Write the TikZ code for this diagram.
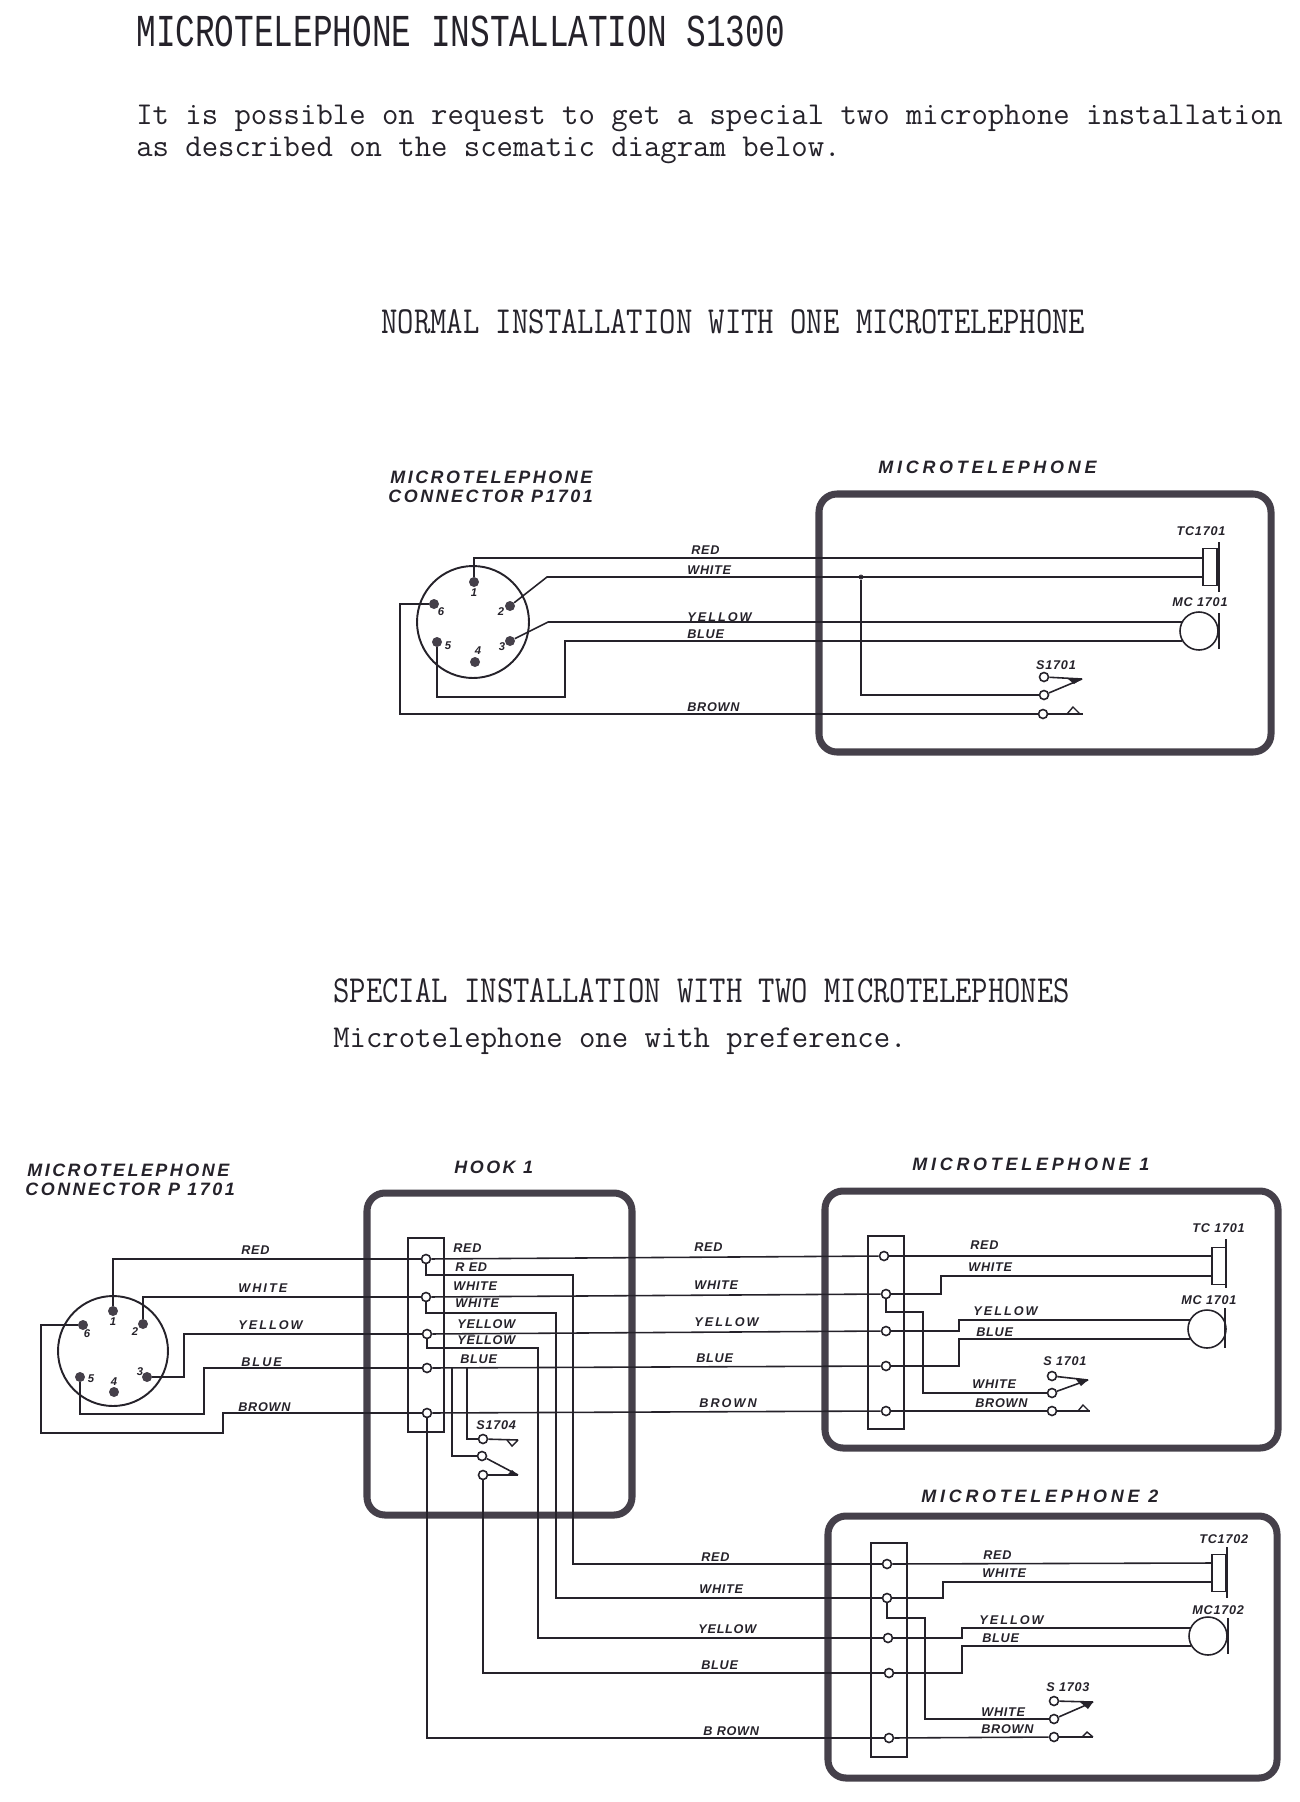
\documentclass[tikz,border=0pt]{standalone}
\usepackage{fontspec}
\newfontfamily\titlefamily[FakeStretch=0.717]{Liberation Mono}
\newfontfamily\headfamily[FakeStretch=0.83]{Latin Modern Mono}
\newfontfamily\bodyfamily{Latin Modern Mono}
\newfontfamily\tagfamily[LetterSpace=6]{Liberation Sans}
\newfontfamily\widetagfamily[LetterSpace=16]{Liberation Sans}
\newfontfamily\bigfamily[LetterSpace=14]{Liberation Sans}
\newfontfamily\widebigfamily[LetterSpace=21]{Liberation Sans}
\definecolor{ink}{HTML}{25222A}
\definecolor{casing}{HTML}{45404A}
\tikzset{
  wire/.style={draw=ink, line width=0.9pt},
  case/.style={draw=casing, line width=4pt, rounded corners=0.36cm},
  strip/.style={draw=ink, line width=0.8pt},
  rim/.style={shape=circle, draw=ink, line width=1.1pt, inner sep=0pt},
  pinhead/.style={shape=circle, fill=casing, inner sep=0pt, minimum size=0.2cm},
  dot/.style={shape=circle, fill=casing, inner sep=0pt, minimum size=0.1cm},
  lug/.style={shape=circle, draw=ink, fill=white, line width=0.9pt, inner sep=0pt, minimum size=0.18cm},
  mic/.style={shape=circle, draw=ink, line width=0.9pt, inner sep=0pt, minimum size=0.76cm},
  earpiece/.style={draw=ink, line width=0.9pt, inner sep=0pt, minimum width=0.28cm, minimum height=0.74cm},
  plate/.style={fill=ink, inner sep=0pt, minimum width=0.04cm},
  pinno/.style={text=ink, inner sep=0pt, font=\tagfamily\bfseries\itshape\fontsize{6.4}{7}\selectfont},
  tag/.style={text=ink, anchor=base west, inner sep=0pt, font=\tagfamily\bfseries\itshape\fontsize{7.2}{8}\selectfont},
  widetag/.style={text=ink, anchor=base west, inner sep=0pt, font=\widetagfamily\bfseries\itshape\fontsize{7.2}{8}\selectfont},
  bigtag/.style={text=ink, anchor=base west, inner sep=0pt, font=\bigfamily\bfseries\itshape\fontsize{10.2}{11}\selectfont},
  widebigtag/.style={text=ink, anchor=base west, inner sep=0pt, font=\widebigfamily\bfseries\itshape\fontsize{10.2}{11}\selectfont},
  bodyline/.style={text=ink, anchor=base west, inner sep=0pt, font=\bodyfamily\fontsize{18.1}{20}\selectfont},
  headline/.style={text=ink, anchor=base west, inner sep=0pt, font=\headfamily\fontsize{21.8}{24}\selectfont}
}
\begin{document}
\begin{tikzpicture}[x=0.02cm, y=-0.02cm]
\useasboundingbox (0,0) rectangle (1299,1802);
% texts
\node[text=ink, anchor=base west, inner sep=0pt, font=\titlefamily\fontsize{26}{30}\selectfont] (title) at (136,46) {MICROTELEPHONE INSTALLATION S1300};
\node[bodyline] (intro1) at (136,124) {It is possible on request to get a special two microphone installation};
\node[bodyline] (intro2) at (136,156) {as described on the scematic diagram below.};
\node[headline] (normal) at (381,333) {NORMAL INSTALLATION WITH ONE MICROTELEPHONE};
\node[headline] (special) at (333,1002) {SPECIAL INSTALLATION WITH TWO MICROTELEPHONES};
\node[bodyline] (prefer) at (333,1047) {Microtelephone one with preference.};
% normal installation
\draw[case] (819,494) rectangle (1271,752);
\node[bigtag] (conntop) at (390,483) {MICROTELEPHONE};
\node[bigtag] (conntop2) at (388,502) {CONNECTOR P1701};
\node[widebigtag] (phonetop) at (878,473) {MICROTELEPHONE};
\node[rim, minimum size=2.24cm] (rimA) at (473,622) {};
\node[pinhead] (p1) at (474,582) {};
\node[pinhead] (p2) at (510,606) {};
\node[pinhead] (p3) at (510,641) {};
\node[pinhead] (p4) at (475,662) {};
\node[pinhead] (p5) at (437,642) {};
\node[pinhead] (p6) at (434,604) {};
\node[pinno] (pn1) at (474,593) {1};
\node[pinno] (pn2) at (501,612) {2};
\node[pinno] (pn3) at (502,647) {3};
\node[pinno] (pn4) at (478,651) {4};
\node[pinno] (pn5) at (448,646) {5};
\node[pinno] (pn6) at (441,612) {6};
\node[earpiece] (tcA) at (1210,567) {};
\node[plate, minimum height=1cm] (tcAp) at (1219,567) {};
\node[mic] (mcA) at (1199,631) {};
\node[plate, minimum height=0.72cm] (mcAp) at (1219,631) {};
\node[lug] (s1) at (1044,677) {};
\node[lug] (s2) at (1044,695) {};
\node[lug] (s3) at (1043,714) {};
\coordinate (a1) at (1203,558);
\coordinate (a2) at (1203,577);
\coordinate (a3) at (547,577);
\coordinate (a4) at (548,622);
\coordinate (a5) at (1182,622);
\coordinate (a6) at (565,697);
\coordinate (a7) at (1182,641);
\coordinate (a8) at (400,714);
\coordinate (a9) at (1082,679);
\coordinate (a10) at (1083,714);
\node[dot] (jn) at (861,577) {};
\path [wire] (p1) |- (a1);
\path [wire] (p2) -- (a3) -- (a2);
\path [wire] (p3) -- (a4) -- (a5);
\path [wire] (p5) |- (a6) |- (a7);
\path [wire] (p6) -| (a8) -- (s3);
\path [wire] (jn) |- (s2);
\path [wire] (s1) -- (a9);
\path [wire] (s2) -- (a9);
\path [wire] (s3) -- (a10);
\fill[ink] (1068,679) -- (1082,679) -- (1074,684) -- cycle;
\draw[wire, line width=0.8pt] (1067,714) -- (1073,707) -- (1080,714);
\node[tag] (t1) at (691,554) {RED};
\node[tag] (t2) at (687,574) {WHITE};
\node[widetag] (t3) at (687,621) {YELLOW};
\node[tag] (t4) at (687,638) {BLUE};
\node[tag] (t5) at (687,711) {BROWN};
\node[tag, anchor=base] (t6) at (1201,535) {TC1701};
\node[tag, anchor=base] (t7) at (1200,606) {MC 1701};
\node[tag, anchor=base] (t8) at (1056,669) {S1701};
% special installation, connector
\draw[case] (367,1193) rectangle (632,1515);
\draw[case] (825,1191) rectangle (1278,1448);
\draw[case] (828,1516) rectangle (1277,1778);
\node[bigtag] (connlow) at (27,1176) {MICROTELEPHONE};
\node[bigtag] (connlow2) at (25,1195) {CONNECTOR P 1701};
\node[bigtag] (hook) at (454,1173) {HOOK 1};
\node[widebigtag] (phone1) at (912,1170) {MICROTELEPHONE 1};
\node[widebigtag] (phone2) at (921,1502) {MICROTELEPHONE 2};
\node[rim, minimum size=2.2cm] (rimB) at (113,1351) {};
\node[pinhead] (q1) at (113,1311) {};
\node[pinhead] (q2) at (143,1324) {};
\node[pinhead] (q3) at (147,1377) {};
\node[pinhead] (q4) at (114,1392) {};
\node[pinhead] (q5) at (80,1377) {};
\node[pinhead] (q6) at (83,1325) {};
\node[pinno] (qn1) at (113,1322) {1};
\node[pinno] (qn2) at (135,1332) {2};
\node[pinno] (qn3) at (140,1372) {3};
\node[pinno] (qn4) at (114,1382) {4};
\node[pinno] (qn5) at (91,1379) {5};
\node[pinno] (qn6) at (87,1334) {6};
% strips
\draw[strip] (408,1238) rectangle (444,1432);
\draw[strip] (868,1236) rectangle (904,1429);
\draw[strip] (871,1543) rectangle (907,1757);
\node[lug] (r1) at (426,1259) {};
\node[lug] (r2) at (426,1297) {};
\node[lug] (r3) at (427,1334) {};
\node[lug] (r4) at (427,1368) {};
\node[lug] (r5) at (427,1413) {};
\node[lug] (m1) at (884,1256) {};
\node[lug] (m2) at (886,1294) {};
\node[lug] (m3) at (886,1331) {};
\node[lug] (m4) at (886,1366) {};
\node[lug] (m5) at (886,1411) {};
\node[lug] (n1) at (887,1564) {};
\node[lug] (n2) at (887,1598) {};
\node[lug] (n3) at (888,1638) {};
\node[lug] (n4) at (889,1673) {};
\node[lug] (n5) at (889,1738) {};
% connector to hook
\coordinate (b1) at (184,1334);
\coordinate (b2) at (204,1414);
\coordinate (b3) at (41,1433);
\coordinate (b4) at (223,1433);
\path [wire] (q1) |- (r1);
\path [wire] (q2) |- (r2);
\path [wire] (q3) -| (b1) -- (r3);
\path [wire] (q5) |- (b2) |- (r4);
\path [wire] (q6) -| (b3) -- (b4) |- (r5);
% hook to microtelephone 1
\path [wire] (r1) edge (m1);
\path [wire] (r2) edge (m2);
\path [wire] (r3) edge (m3);
\path [wire] (r4) edge (m4);
\path [wire] (r5) edge (m5);
% hook to microtelephone 2
\coordinate (g1) at (573,1275);
\coordinate (g2) at (556,1313);
\coordinate (g3) at (538,1348);
\path [wire] (r1) |- (g1) |- (n1);
\path [wire] (r2) |- (g2) |- (n2);
\path [wire] (r3) |- (g3) |- (n3);
\path [wire] (r5) |- (n5);
% switch S1704
\node[lug] (u1) at (483,1439) {};
\node[lug] (u2) at (482,1456) {};
\node[lug] (u3) at (483,1475) {};
\coordinate (j1) at (452,1368);
\coordinate (j2) at (467,1368);
\coordinate (u4) at (518,1440);
\coordinate (u5) at (518,1475);
\path [wire] (j1) |- (u2);
\path [wire] (j2) |- (u1);
\path [wire] (u1) -- (u4);
\path [wire] (u2) -- (u5);
\path [wire] (u3) -- (u5);
\path [wire] (u3) |- (n4);
\draw[wire, line width=0.8pt] (507,1440) -- (512,1446) -- (518,1440);
\fill[ink] (507,1475) -- (512,1470) -- (518,1475) -- cycle;
\node[tag] (h1) at (453,1252) {RED};
\node[tag] (h2) at (455,1271) {R ED};
\node[tag] (h3) at (453,1290) {WHITE};
\node[tag] (h4) at (455,1307) {WHITE};
\node[tag] (h5) at (457,1328) {YELLOW};
\node[tag] (h6) at (457,1344) {YELLOW};
\node[tag] (h7) at (460,1363) {BLUE};
\node[tag] (h8) at (476,1429) {S1704};
\node[tag] (l1) at (241,1254) {RED};
\node[widetag] (l2) at (238,1292) {WHITE};
\node[widetag] (l3) at (238,1329) {YELLOW};
\node[widetag] (l4) at (241,1366) {BLUE};
\node[tag] (l5) at (238,1411) {BROWN};
\node[tag] (c1) at (694,1251) {RED};
\node[tag] (c2) at (694,1289) {WHITE};
\node[widetag] (c3) at (694,1326) {YELLOW};
\node[tag] (c4) at (696,1362) {BLUE};
\node[widetag] (c5) at (699,1407) {BROWN};
\node[tag] (d1) at (701,1561) {RED};
\node[tag] (d2) at (699,1593) {WHITE};
\node[tag] (d3) at (698,1633) {YELLOW};
\node[tag] (d4) at (701,1669) {BLUE};
\node[tag] (d5) at (703,1735) {B ROWN};
% microtelephone 1
\node[earpiece] (tcB) at (1219,1266) {};
\node[plate, minimum height=0.98cm] (tcBp) at (1226,1263) {};
\node[mic] (mcB) at (1207,1329) {};
\node[plate, minimum height=0.8cm] (mcBp) at (1225,1328) {};
\node[lug] (w1) at (1052,1376) {};
\node[lug] (w2) at (1052,1393) {};
\node[lug] (w3) at (1052,1411) {};
\coordinate (e1) at (1212,1256);
\coordinate (e2) at (941,1276);
\coordinate (e3) at (1212,1276);
\coordinate (e4) at (923,1312);
\coordinate (e5) at (959,1320);
\coordinate (e6) at (1190,1320);
\coordinate (e7) at (959,1339);
\coordinate (e8) at (1190,1339);
\coordinate (e9) at (1088,1380);
\coordinate (e10) at (1090,1411);
\path [wire] (m1) -- (e1);
\path [wire] (m2) -| (e2) -- (e3);
\path [wire] (m2) |- (e4) |- (w2);
\path [wire] (m3) -| (e5) -- (e6);
\path [wire] (m4) -| (e7) -- (e8);
\path [wire] (m5) -- (w3);
\path [wire] (w1) -- (e9);
\path [wire] (w2) -- (e9);
\path [wire] (w3) -- (e10);
\fill[ink] (1075,1378) -- (1088,1380) -- (1081,1386) -- cycle;
\draw[wire, line width=0.8pt] (1078,1411) -- (1083,1405) -- (1089,1411);
\node[tag] (f1) at (970,1249) {RED};
\node[tag] (f2) at (968,1271) {WHITE};
\node[widetag] (f3) at (973,1315) {YELLOW};
\node[tag] (f4) at (976,1336) {BLUE};
\node[tag] (f5) at (1043,1365) {S 1701};
\node[tag] (f6) at (972,1388) {WHITE};
\node[tag] (f7) at (975,1407) {BROWN};
\node[tag] (f8) at (1192,1232) {TC 1701};
\node[tag] (f9) at (1181,1304) {MC 1701};
% microtelephone 2
\node[earpiece] (tcC) at (1219,1573) {};
\node[plate, minimum height=1.02cm] (tcCp) at (1227,1572) {};
\node[mic] (mcC) at (1208,1636) {};
\node[plate, minimum height=0.72cm] (mcCp) at (1228,1636) {};
\node[lug] (y1) at (1054,1701) {};
\node[lug] (y2) at (1054,1719) {};
\node[lug] (y3) at (1054,1737) {};
\coordinate (k1) at (1212,1563);
\coordinate (k2) at (943,1582);
\coordinate (k3) at (1212,1582);
\coordinate (k4) at (925,1618);
\coordinate (k5) at (962,1628);
\coordinate (k6) at (1191,1628);
\coordinate (k7) at (962,1646);
\coordinate (k8) at (1191,1646);
\coordinate (k9) at (1093,1702);
\coordinate (k10) at (1093,1737);
\path [wire] (n1) -- (k1);
\path [wire] (n2) -| (k2) -- (k3);
\path [wire] (n2) |- (k4) |- (y2);
\path [wire] (n3) -| (k5) -- (k6);
\path [wire] (n4) -| (k7) -- (k8);
\path [wire] (n5) -- (y3);
\path [wire] (y1) -- (k9);
\path [wire] (y2) -- (k9);
\path [wire] (y3) -- (k10);
\fill[ink] (1080,1702) -- (1093,1702) -- (1088,1709) -- cycle;
\draw[wire, line width=0.8pt] (1082,1737) -- (1087,1732) -- (1093,1737);
\node[tag] (v1) at (983,1559) {RED};
\node[tag] (v2) at (982,1577) {WHITE};
\node[widetag] (v3) at (979,1624) {YELLOW};
\node[tag] (v4) at (982,1642) {BLUE};
\node[tag] (v5) at (1046,1691) {S 1703};
\node[tag] (v6) at (981,1716) {WHITE};
\node[tag] (v7) at (981,1733) {BROWN};
\node[tag] (v8) at (1199,1543) {TC1702};
\node[tag] (v9) at (1192,1614) {MC1702};
\end{tikzpicture}
\end{document}
